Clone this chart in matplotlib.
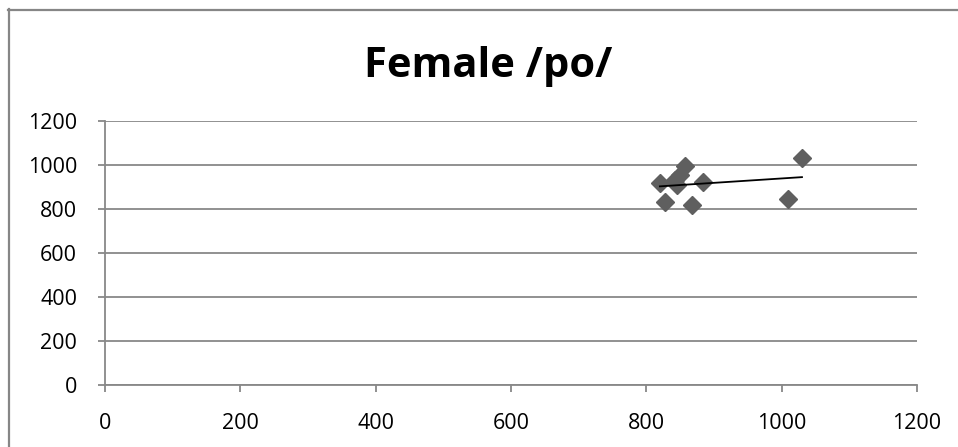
import matplotlib
matplotlib.use("Agg")
import matplotlib.pyplot as plt
from matplotlib.lines import Line2D
import numpy as np

# F1 / F2 style measurements for female /po/
x_vals = [1030, 1010, 857, 850, 842, 820, 884, 828, 868, 845]
y_vals = [1030, 845, 995, 955, 932, 917, 921, 833, 818, 910]

title = "Female /po/"
x_ticks = [0, 200, 400, 600, 800, 1000, 1200]
y_ticks = [0, 200, 400, 600, 800, 1000, 1200]

W, H, DPI = 958, 447, 100
fig = plt.figure(figsize=(W / DPI, H / DPI), dpi=DPI)
fig.patch.set_facecolor("white")

left, right, top, bottom = 105, 917, 121, 385
ax = fig.add_axes([left / W, 1 - bottom / H, (right - left) / W, (bottom - top) / H])

grid_col = "#888888"
ax.set_xlim(0, 1200)
ax.set_ylim(0, 1200)
ax.set_xticks(x_ticks)
ax.set_yticks(y_ticks)
ax.set_xticklabels([str(t) for t in x_ticks])
ax.set_yticklabels([str(t) for t in y_ticks])
ax.yaxis.grid(True, color=grid_col, linewidth=1.3)
ax.set_axisbelow(True)
for s in ("top", "right"):
    ax.spines[s].set_visible(False)
for s in ("left", "bottom"):
    ax.spines[s].set_color(grid_col)
    ax.spines[s].set_linewidth(1.3)
ax.tick_params(axis="both", direction="out", length=5, width=1.3, color=grid_col,
               labelsize=15.5, labelcolor="black")
ax.tick_params(axis="x", pad=15)
ax.tick_params(axis="y", pad=15)
for lbl in ax.get_xticklabels() + ax.get_yticklabels():
    lbl.set_fontfamily("Open Sans")

ax.plot(x_vals, y_vals, linestyle="none", marker="D", markersize=9.5,
        color="#5f5f5f", markeredgecolor="#5f5f5f", zorder=3)

# linear trend line over the data range
xs = np.array(x_vals, dtype=float)
ys = np.array(y_vals, dtype=float)
k, b = np.polyfit(xs, ys, 1)
xl = np.array([xs.min(), xs.max()])
ax.plot(xl, k * xl + b, color="black", linewidth=1.3, zorder=4)

fig.text(488 / W, 1 - 77 / H, title, ha="center", va="baseline",
         fontsize=30, fontweight="bold", fontfamily="Open Sans")

# chart frame
fig.add_artist(Line2D([8.5 / W, 8.5 / W], [1 - 9 / H, 0], color="#868686", linewidth=1.6,
                      transform=fig.transFigure))
fig.add_artist(Line2D([8 / W, 1], [1 - 9.5 / H, 1 - 9.5 / H], color="#868686", linewidth=1.6,
                      transform=fig.transFigure))

fig.savefig("out.png", dpi=DPI)
